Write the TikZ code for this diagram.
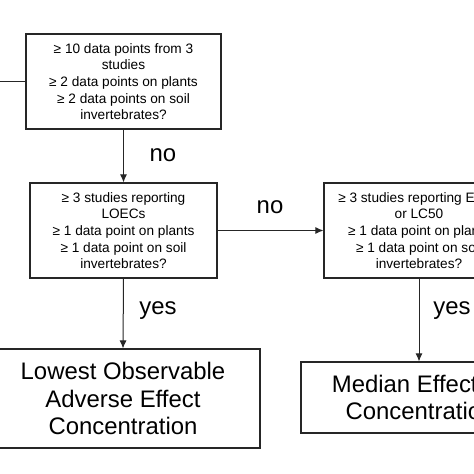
\documentclass[tikz,border=0pt]{standalone}
\usepackage{fontspec}
\setmainfont{Liberation Sans}
\usetikzlibrary{arrows.meta}
\begin{document}
\begin{tikzpicture}[x=1bp,y=-1bp,
    crit/.style={draw=black!85,line width=1.1bp,align=center,inner sep=0pt,minimum height=95bp,font=\fontsize{13.7}{16.7}\selectfont},
    outcome/.style={draw=black!85,line width=1.1bp,align=center,inner sep=0pt,font=\fontsize{24}{28}\selectfont},
    lbl/.style={font=\fontsize{24}{26}\selectfont},
    link/.style={draw=black!85,line width=1bp,-{Latex[length=8bp,width=7bp]}}]
    \useasboundingbox (0,0) rectangle (474,474);
    \clip (0,0) rectangle (474,474);
    \node[crit,minimum width=195bp] (tenpts) at (123.5,81.5) {≥ 10 data points from 3\\studies\\≥ 2 data points on plants\\≥ 2 data points on soil\\invertebrates?};
    \node[crit,minimum width=187bp] (loec) at (123.5,230.5) {≥ 3 studies reporting\\LOECs\\≥ 1 data point on plants\\≥ 1 data point on soil\\invertebrates?};
    \node[crit,minimum width=190bp] (ecfifty) at (419,230.5) {≥ 3 studies reporting EC50\\or LC50\\≥ 1 data point on plants\\≥ 1 data point on soil\\invertebrates?};
    \node[outcome,minimum width=274bp,minimum height=99bp] (loaec) at (123,398.5) {Lowest Observable\\Adverse Effect\\Concentration};
    \node[outcome,minimum width=238bp,minimum height=71bp] (median) at (420,397.5) {Median Effective\\Concentration};
    \coordinate (from) at (0,81.5);
    \draw[draw=black!85,line width=1bp] (from) -- (tenpts.west);
    \draw[link] (tenpts.south) -- (loec.north);
    \draw[link] (loec.east) -- (ecfifty.west);
    \draw[link] (loec.south) -- (loaec.north);
    \draw[link] (ecfifty.south) -- (median.north -| ecfifty.south);
    \node[lbl] (no1) at (163,155) {no};
    \node[lbl] (no2) at (270,207) {no};
    \node[lbl] (yes1) at (158,311) {yes};
    \node[lbl] (yes2) at (452,311) {yes};
\end{tikzpicture}
\end{document}
